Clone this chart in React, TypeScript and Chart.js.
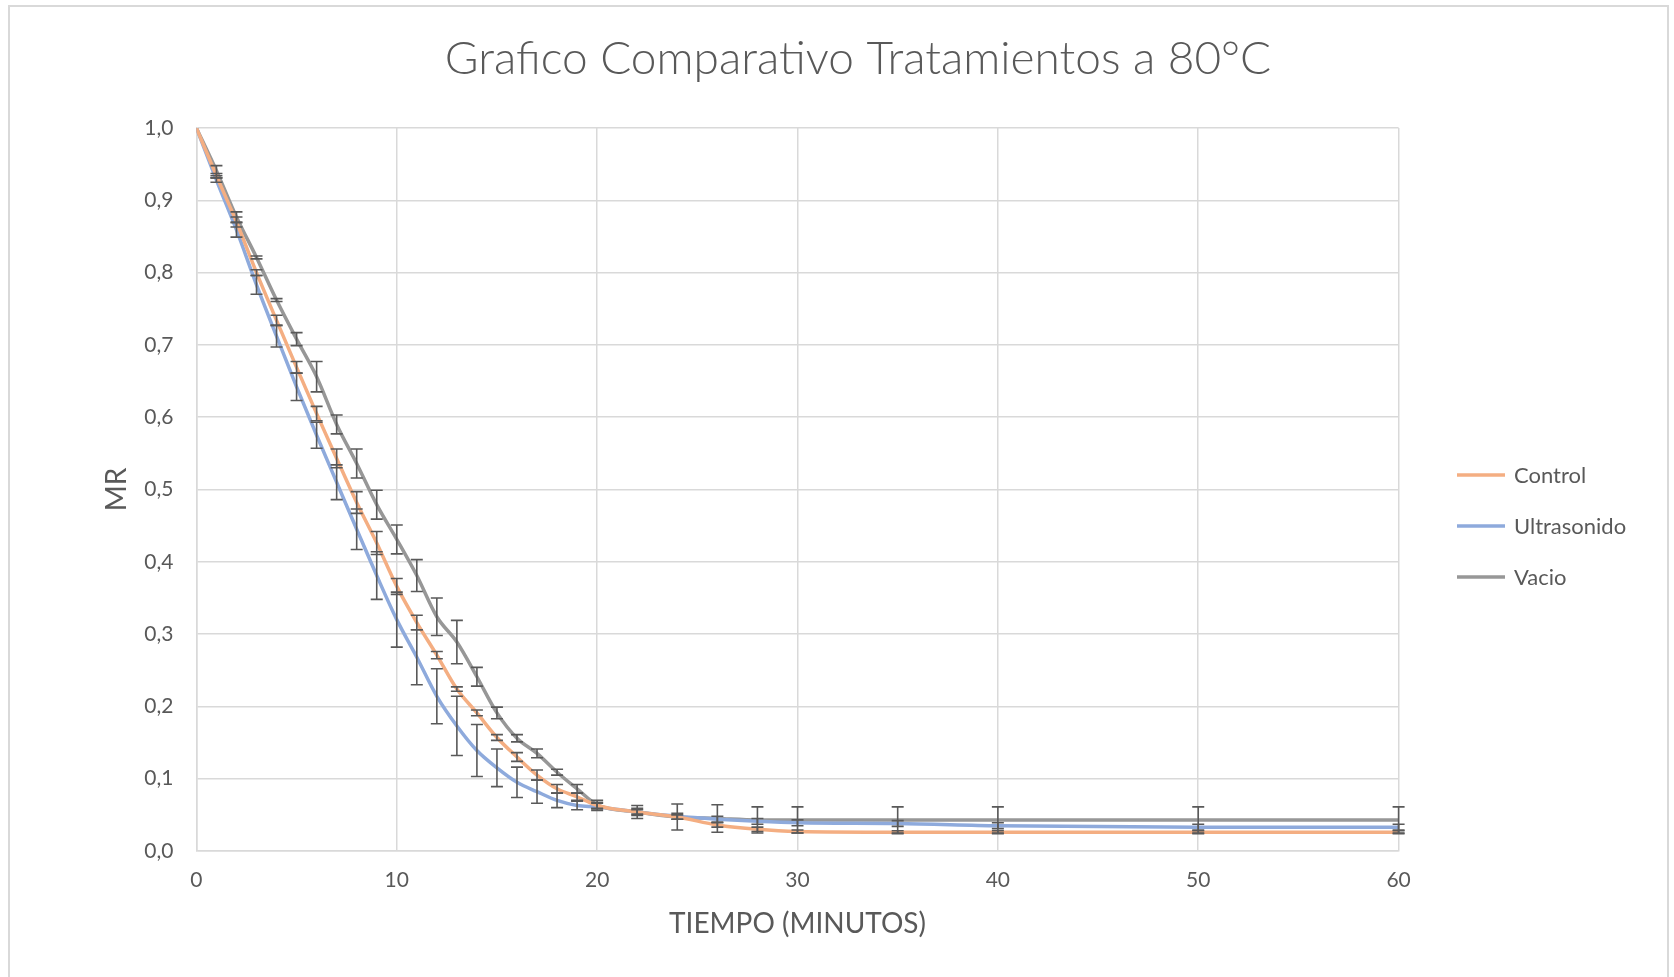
import React, { useEffect, useRef } from "react";
import { Chart, registerables } from "chart.js";

Chart.register(...registerables);

const TITLE = "Grafico Comparativo Tratamientos a 80°C";
const X_TITLE = "TIEMPO (MINUTOS)";
const Y_TITLE = "MR";
const SERIES_NAMES = ["Control", "Ultrasonido", "Vacio"];
const SERIES_COLORS = ["#F4AE82", "#8EAADC", "#979797"];

const TIME = [0, 1, 2, 3, 4, 5, 6, 7, 8, 9, 10, 11, 12, 13, 14, 15, 16, 17, 18, 19, 20, 22, 24, 26, 28, 30, 35, 40, 50, 60];

const CONTROL = [1.0, 0.934, 0.87, 0.8, 0.734, 0.669, 0.605, 0.543, 0.482, 0.426, 0.366, 0.316, 0.271, 0.224, 0.191, 0.157, 0.13, 0.105, 0.086, 0.075, 0.063, 0.054, 0.047, 0.036, 0.03, 0.027, 0.026, 0.026, 0.026, 0.026];
const CONTROL_ERR = [0, 0.003, 0.007, 0.004, 0.007, 0.008, 0.01, 0.013, 0.015, 0.016, 0.011, 0.01, 0.005, 0.003, 0.004, 0.004, 0.006, 0.007, 0.006, 0.005, 0.004, 0.003, 0.003, 0.003, 0.003, 0.002, 0.002, 0.002, 0.002, 0.002];

const ULTRASONIDO = [1.0, 0.928, 0.859, 0.783, 0.712, 0.642, 0.575, 0.51, 0.445, 0.381, 0.32, 0.268, 0.214, 0.173, 0.139, 0.115, 0.095, 0.082, 0.07, 0.063, 0.061, 0.054, 0.048, 0.044, 0.041, 0.039, 0.038, 0.035, 0.033, 0.033];
const ULTRASONIDO_ERR = [0, 0.003, 0.01, 0.013, 0.015, 0.019, 0.018, 0.024, 0.028, 0.033, 0.038, 0.038, 0.038, 0.041, 0.036, 0.026, 0.021, 0.016, 0.01, 0.006, 0.005, 0.005, 0.004, 0.004, 0.004, 0.004, 0.004, 0.004, 0.004, 0.004];

const VACIO = [1.0, 0.941, 0.877, 0.821, 0.762, 0.708, 0.656, 0.59, 0.536, 0.479, 0.431, 0.381, 0.324, 0.289, 0.241, 0.191, 0.156, 0.135, 0.109, 0.086, 0.064, 0.054, 0.047, 0.045, 0.043, 0.043, 0.043, 0.043, 0.043, 0.043];
const VACIO_ERR = [0, 0.007, 0.007, 0.002, 0.002, 0.009, 0.021, 0.013, 0.02, 0.02, 0.02, 0.022, 0.026, 0.03, 0.013, 0.008, 0.005, 0.006, 0.004, 0.006, 0.006, 0.009, 0.018, 0.019, 0.018, 0.018, 0.018, 0.018, 0.018, 0.018];

const SERIES_VALUES = [CONTROL, ULTRASONIDO, VACIO];
const SERIES_ERRORS = [CONTROL_ERR, ULTRASONIDO_ERR, VACIO_ERR];

const FONT = "Lato, 'Open Sans', sans-serif";
const TEXT_COLOR = "#595959";

const errorBarsPlugin = {
  id: "errorBars",
  afterDatasetsDraw(chart: any) {
    const { ctx } = chart;
    const xs = chart.scales.x;
    const ys = chart.scales.y;
    ctx.save();
    ctx.strokeStyle = "#595959";
    ctx.lineWidth = 1.6;
    SERIES_VALUES.forEach((vals, si) => {
      const errs = SERIES_ERRORS[si];
      vals.forEach((v, i) => {
        const e = errs[i];
        if (!e) return;
        const px = xs.getPixelForValue(TIME[i]);
        const top = ys.getPixelForValue(v + e);
        const bot = ys.getPixelForValue(v - e);
        ctx.beginPath();
        ctx.moveTo(px, top);
        ctx.lineTo(px, bot);
        ctx.moveTo(px - 6, top);
        ctx.lineTo(px + 6, top);
        ctx.moveTo(px - 6, bot);
        ctx.lineTo(px + 6, bot);
        ctx.stroke();
      });
    });
    ctx.restore();
  },
};

const decorPlugin = {
  id: "decor",
  afterDraw(chart: any) {
    const { ctx, chartArea } = chart;
    ctx.save();
    ctx.fillStyle = TEXT_COLOR;
    // Title
    ctx.font = `300 46px ${FONT}`;
    ctx.textAlign = "center";
    ctx.textBaseline = "middle";
    ctx.fillText(TITLE, 858, 59);
    // X axis title
    ctx.font = `28px ${FONT}`;
    ctx.fillText(X_TITLE, (chartArea.left + chartArea.right) / 2, 924);
    // Y axis title
    ctx.save();
    ctx.translate(117, (chartArea.top + chartArea.bottom) / 2);
    ctx.rotate(-Math.PI / 2);
    ctx.fillText(Y_TITLE, 0, 0);
    ctx.restore();
    // Legend
    ctx.font = `22px ${FONT}`;
    ctx.textAlign = "left";
    const ys = [475, 526, 577];
    SERIES_NAMES.forEach((name, i) => {
      ctx.strokeStyle = SERIES_COLORS[i];
      ctx.lineWidth = 3.5;
      ctx.beginPath();
      ctx.moveTo(1457, ys[i]);
      ctx.lineTo(1505, ys[i]);
      ctx.stroke();
      ctx.fillStyle = TEXT_COLOR;
      ctx.fillText(name, 1514, ys[i] + 1);
    });
    ctx.restore();
  },
};

export default function App() {
  const ref = useRef<HTMLCanvasElement | null>(null);

  useEffect(() => {
    let chart: Chart | null = null;
    let cancelled = false;
    const build = () => {
      if (cancelled || !ref.current) return;
      const datasets = SERIES_NAMES.map((name, si) => ({
        label: name,
        data: TIME.map((t, i) => ({ x: t, y: SERIES_VALUES[si][i] })),
        borderColor: SERIES_COLORS[si],
        backgroundColor: SERIES_COLORS[si],
        borderWidth: 3.5,
        pointRadius: 0,
        pointHoverRadius: 0,
        cubicInterpolationMode: "monotone" as const,
        fill: false,
      }));
      chart = new Chart(ref.current, {
        type: "line",
        data: { datasets },
        options: {
          animation: false,
          responsive: false,
          devicePixelRatio: 1,
          events: [],
          layout: { padding: { left: 0, top: 128, right: 1674 - 1398.6, bottom: 66 } },
          plugins: {
            legend: { display: false },
            title: { display: false },
            tooltip: { enabled: false },
          },
          scales: {
            x: {
              type: "linear",
              min: 0,
              max: 60,
              afterFit: (s: any) => {
                s.height = 60;
              },
              ticks: {
                stepSize: 10,
                color: TEXT_COLOR,
                font: { family: FONT, size: 21 },
                padding: 17,
                maxRotation: 0,
              },
              grid: { color: "#d9d9d9", lineWidth: 1.5, drawTicks: false },
              border: { color: "#d9d9d9", width: 1.5 },
            },
            y: {
              type: "linear",
              min: 0,
              max: 1,
              afterFit: (s: any) => {
                s.width = 196.4;
              },
              ticks: {
                stepSize: 0.1,
                color: TEXT_COLOR,
                font: { family: FONT, size: 21 },
                padding: 23,
                callback: (v: any) => Number(v).toFixed(1).replace(".", ","),
              },
              grid: { color: "#d9d9d9", lineWidth: 1.5, drawTicks: false },
              border: { color: "#d9d9d9", width: 1.5 },
            },
          },
        },
        plugins: [errorBarsPlugin, decorPlugin],
      });
    };
    const fonts: any = (document as any).fonts;
    if (fonts && fonts.load) {
      Promise.all([fonts.load(`21px Lato`), fonts.load(`300 46px Lato`)])
        .catch(() => null)
        .then(build);
    } else {
      build();
    }
    return () => {
      cancelled = true;
      if (chart) chart.destroy();
    };
  }, []);

  return (
    <div style={{ position: "absolute", left: 0, top: 0, width: 1674, height: 977, background: "#fff", overflow: "hidden" }}>
      <div
        style={{
          position: "absolute",
          left: 8,
          top: 5,
          width: 1661,
          height: 1000,
          border: "2px solid #d9d9d9",
          boxSizing: "border-box",
        }}
      />
      <canvas ref={ref} width={1674} height={977} style={{ position: "absolute", left: 0, top: 0, width: 1674, height: 977 }} />
    </div>
  );
}
